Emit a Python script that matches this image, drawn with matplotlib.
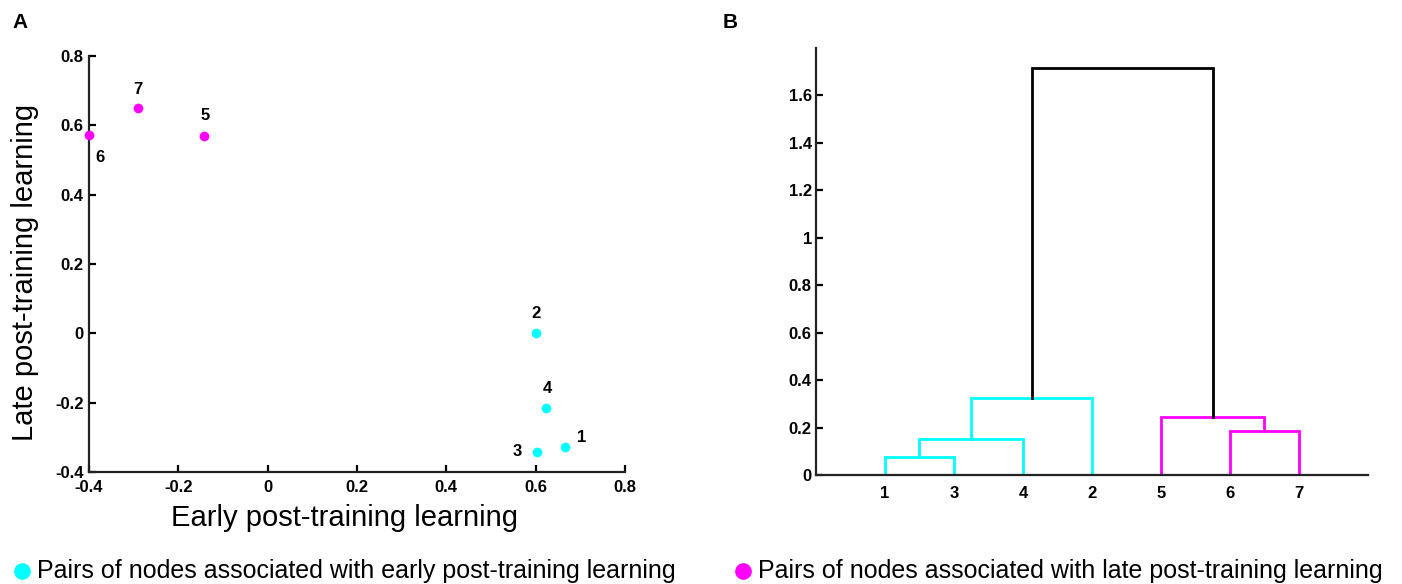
import numpy as np
import matplotlib
matplotlib.use("Agg")
from matplotlib import pyplot as plt
from matplotlib.lines import Line2D

# scatter data (panel A)
pair_ids = [1, 2, 3, 4, 5, 6, 7]
early = [0.666, 0.601, 0.603, 0.623, -0.143, -0.400, -0.290]
late = [-0.328, 0.000, -0.342, -0.215, 0.569, 0.572, 0.650]
pair_group = ["early", "early", "early", "early", "late", "late", "late"]

# dendrogram linkage (panel B), MATLAB style: rows -> new nodes 8, 9, ...
link_left = [1, 8, 9, 6, 5, 10]
link_right = [3, 4, 2, 7, 11, 12]
link_height = [0.076, 0.152, 0.326, 0.186, 0.245, 1.717]
link_group = ["early", "early", "early", "late", "late", "top"]
leaf_order = [1, 3, 4, 2, 5, 6, 7]

colors = {"early": "#00FFFF", "late": "#FF00FF", "top": "black"}
tick_font = ["Liberation Sans Narrow", "Liberation Sans", "DejaVu Sans"]
text_font = ["Liberation Sans", "DejaVu Sans"]

fig = plt.figure(figsize=(14.02, 5.84), dpi=100)

# ---- panel A: scatter ----
ax1 = fig.add_axes([0.0635, 0.1918, 0.3823, 0.7123])
for i, pid in enumerate(pair_ids):
    ax1.plot(early[i], late[i], "o", color=colors[pair_group[i]], ms=7,
             mec="none", clip_on=False, zorder=3)

label_offsets = {1: (16, 10), 2: (0, 20), 3: (-20, 0), 4: (1, 19),
                 5: (1, 21), 6: (11, -22), 7: (0, 19)}
for i, pid in enumerate(pair_ids):
    ax1.annotate(str(pid), (early[i], late[i]), xytext=label_offsets[pid],
                 textcoords="offset pixels", ha="center", va="center",
                 fontsize=12, fontweight="bold", family=text_font)

ax1.set_xlim(-0.4, 0.8)
ax1.set_ylim(-0.4, 0.8)
xt = [-0.4, -0.2, 0, 0.2, 0.4, 0.6, 0.8]
xt_labels = ["-0.4", "-0.2", "0", "0.2", "0.4", "0.6", "0.8"]
ax1.set_xticks(xt)
ax1.set_xticklabels(xt_labels)
ax1.set_yticks(xt)
ax1.set_yticklabels(xt_labels)
for s in ["top", "right"]:
    ax1.spines[s].set_visible(False)
for s in ["left", "bottom"]:
    ax1.spines[s].set_linewidth(1.6)
    ax1.spines[s].set_color("#222222")
ax1.tick_params(direction="in", length=5, width=1.6, labelsize=12)
ax1.tick_params(axis="x", pad=6)
ax1.tick_params(axis="y", pad=4)
for lab in ax1.get_xticklabels() + ax1.get_yticklabels():
    lab.set_family(tick_font)
    lab.set_fontweight("bold")
ax1.set_xlabel("Early post-training learning", fontsize=21, family=text_font,
               va="center")
ax1.xaxis.set_label_coords(0.476, -0.11)
ax1.set_ylabel("Late post-training learning", fontsize=21, family=text_font,
               va="center")
ax1.yaxis.set_label_coords(-0.12, 0.48)

# ---- panel B: dendrogram ----
ax2 = fig.add_axes([0.582, 0.1866, 0.3937, 0.7312])
node_x = {leaf: k + 1 for k, leaf in enumerate(leaf_order)}
node_h = {leaf: 0.0 for leaf in leaf_order}
for r in range(len(link_left)):
    a, b, h = link_left[r], link_right[r], link_height[r]
    xa, xb = node_x[a], node_x[b]
    ax2.plot([xa, xa, xb, xb], [node_h[a], h, h, node_h[b]],
             color=colors[link_group[r]], lw=2.0, solid_joinstyle="miter")
    new_id = len(leaf_order) + r + 1
    node_x[new_id] = (xa + xb) / 2
    node_h[new_id] = h

ax2.set_xlim(0, 8)
ax2.set_ylim(0, 1.8)
ax2.set_xticks(range(1, 8))
ax2.set_xticklabels([str(l) for l in leaf_order])
yt = [0, 0.2, 0.4, 0.6, 0.8, 1, 1.2, 1.4, 1.6]
ax2.set_yticks(yt)
ax2.set_yticklabels(["0", "0.2", "0.4", "0.6", "0.8", "1", "1.2", "1.4", "1.6"])
for s in ["top", "right"]:
    ax2.spines[s].set_visible(False)
for s in ["left", "bottom"]:
    ax2.spines[s].set_linewidth(1.6)
    ax2.spines[s].set_color("#222222")
ax2.tick_params(axis="y", direction="in", length=5, width=1.6, pad=3, labelsize=12)
ax2.tick_params(axis="x", length=0, pad=8, labelsize=12)
for lab in ax2.get_xticklabels() + ax2.get_yticklabels():
    lab.set_family(tick_font)
    lab.set_fontweight("bold")

# panel letters
fig.text(20 / 1402, 1 - 22 / 584, "A", fontsize=15, fontweight="bold",
         family=text_font, ha="center", va="center")
fig.text(730 / 1402, 1 - 22 / 584, "B", fontsize=15, fontweight="bold",
         family=text_font, ha="center", va="center")

# bottom legend
legend_items = [("early", 22, "Pairs of nodes associated with early post-training learning"),
                ("late", 743, "Pairs of nodes associated with late post-training learning")]
for grp, px, txt in legend_items:
    fig.add_artist(Line2D([px / 1402], [1 - 571 / 584], marker="o", ms=12,
                          color=colors[grp], mec="none", ls="none",
                          transform=fig.transFigure))
    fig.text((px + 15) / 1402, 1 - 571 / 584, txt, fontsize=18,
             family=text_font, ha="left", va="center")

fig.savefig("out.png", dpi=100)
